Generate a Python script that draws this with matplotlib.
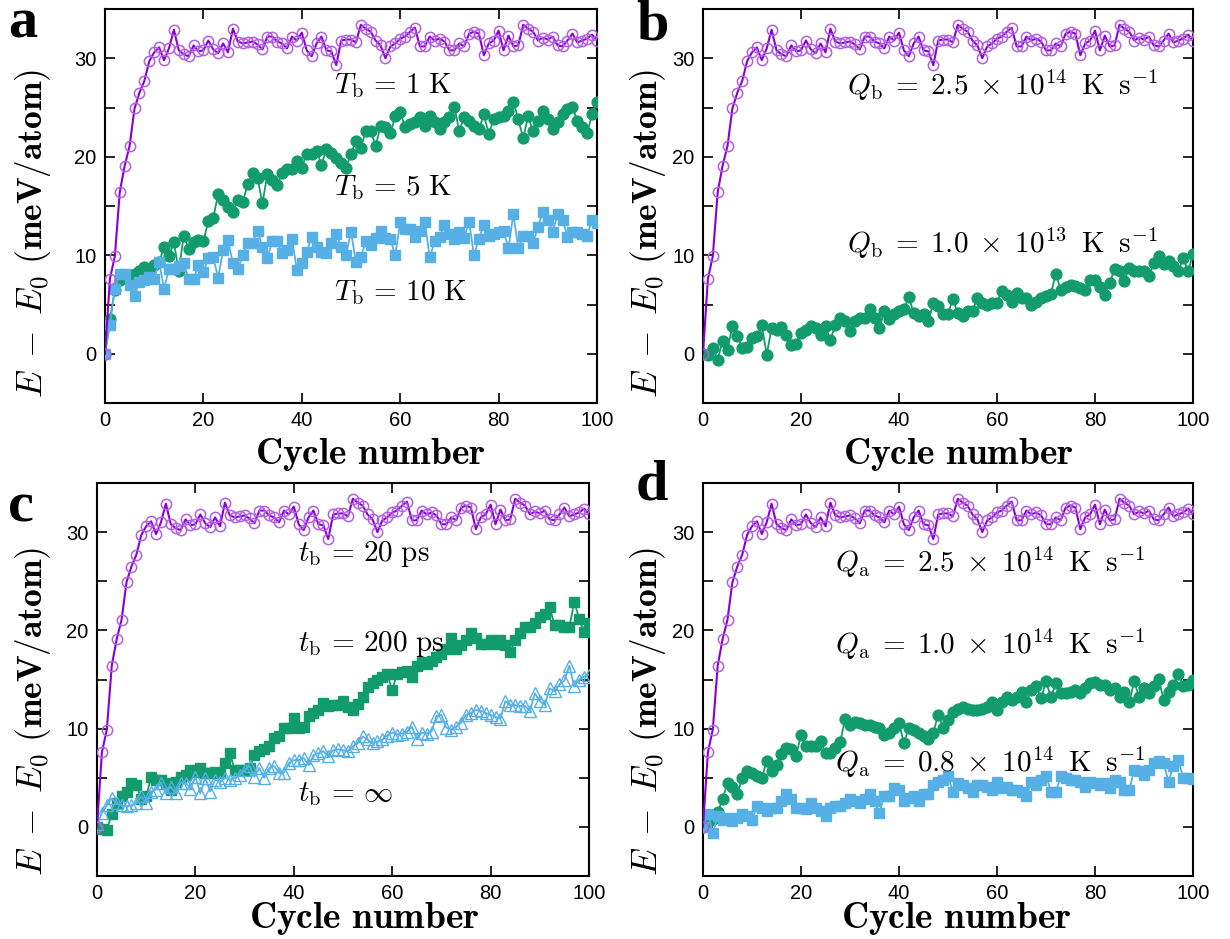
import matplotlib
matplotlib.use("Agg")
import matplotlib.pyplot as plt
from matplotlib.ticker import MultipleLocator

plt.rcParams['mathtext.fontset'] = 'cm'
plt.rcParams['font.family'] = ['Liberation Sans', 'DejaVu Sans']

cycles = list(range(101))

# shared fast-heating reference curve (purple, open circles)
purple = [0, 7.6, 9.9, 16.4, 19.1, 21.1, 24.9, 26.5, 27.7, 29.7, 30.6,
          31.1, 29.8, 31.0, 32.9, 30.8, 30.4, 30.2, 31.3, 30.7, 30.8,
          31.8, 30.9, 30.5, 31.5, 30.6, 33.0, 31.7, 31.5, 31.6, 31.7,
          31.4, 30.9, 32.2, 32.2, 31.7, 31.5, 31.0, 32.2, 31.8, 32.6,
          30.8, 30.2, 31.5, 32.2, 30.8, 30.7, 29.3, 31.8, 31.9, 31.9,
          31.6, 33.4, 33.0, 32.7, 31.8, 31.3, 30.0, 31.2, 31.5, 32.0,
          32.2, 32.7, 33.1, 31.2, 31.2, 32.2, 31.8, 32.0, 31.7, 30.8,
          30.8, 31.5, 31.2, 32.5, 32.7, 32.5, 30.3, 31.5, 31.8, 32.8,
          30.8, 32.3, 31.2, 31.3, 33.4, 33.0, 32.7, 31.8, 32.1, 31.9,
          32.2, 31.3, 31.2, 31.8, 32.5, 31.6, 31.8, 32.0, 32.4, 31.8]

# panel a
a_green_5K = [0, 3.5, 6.5, 7.5, 7.8, 8.0, 8.1, 8.4, 8.8, 8.6, 9.0,
              9.3, 10.8, 9.9, 11.3, 8.4, 12.0, 10.6, 11.3, 11.5, 11.4,
              13.5, 13.8, 16.2, 15.6, 14.9, 14.4, 15.6, 15.4, 17.2, 18.3,
              17.8, 15.3, 18.2, 17.6, 17.1, 18.4, 18.8, 18.8, 19.6, 18.9,
              20.3, 20.3, 20.6, 19.2, 20.8, 20.4, 19.9, 19.4, 18.9, 20.3,
              21.6, 20.9, 22.6, 22.6, 21.1, 23.1, 23.0, 22.4, 24.1, 24.5,
              23.0, 23.3, 23.5, 24.0, 23.1, 24.1, 23.5, 22.8, 23.5, 24.0,
              25.1, 22.6, 24.0, 23.6, 23.1, 22.8, 24.3, 22.3, 23.8, 24.0,
              24.1, 24.6, 25.6, 23.8, 21.9, 24.1, 22.6, 23.6, 24.6, 23.8,
              22.8, 23.5, 24.3, 24.8, 25.1, 23.6, 23.0, 22.4, 24.3, 25.6]
a_blue_10K = [0, 2.9, 6.6, 8.1, 8.1, 7.0, 5.9, 7.3, 7.5, 7.8, 7.6,
              9.3, 6.6, 8.6, 8.6, 8.9, 9.2, 7.6, 7.6, 9.0, 8.3,
              9.7, 9.8, 7.7, 10.5, 11.5, 9.2, 8.6, 10.0, 11.2, 11.2,
              12.5, 10.8, 9.7, 11.4, 11.4, 10.2, 10.5, 11.7, 8.5, 9.2,
              10.3, 11.9, 10.8, 10.3, 10.2, 11.2, 12.2, 10.8, 10.0, 12.4,
              9.3, 9.8, 11.4, 11.0, 11.8, 12.5, 11.8, 11.6, 10.0, 13.4,
              12.7, 12.7, 11.9, 12.5, 13.4, 9.8, 11.4, 11.9, 13.1, 12.2,
              11.6, 12.4, 11.8, 13.4, 10.0, 11.7, 13.1, 12.0, 12.2, 12.4,
              12.5, 10.7, 14.2, 10.7, 12.0, 12.0, 11.2, 12.9, 14.4, 13.6,
              12.4, 14.2, 13.6, 11.9, 12.4, 12.4, 12.2, 12.0, 13.6, 13.3]

# panel b
b_green = [0.0, -0.1, 0.6, -0.6, 1.3, 0.4, 2.8, 1.8, 0.6, 0.7, 1.6,
           1.8, 2.9, -0.1, 2.6, 2.4, 2.7, 1.9, 0.9, 1.0, 2.1,
           2.4, 2.8, 2.6, 1.9, 2.8, 1.4, 2.9, 3.6, 3.3, 2.3,
           3.3, 3.6, 3.6, 4.5, 3.6, 2.6, 4.3, 3.5, 4.0, 4.3,
           4.5, 5.8, 4.1, 3.8, 4.0, 3.3, 5.2, 4.8, 4.0, 4.0,
           5.6, 4.1, 3.8, 4.3, 4.3, 5.7, 5.2, 5.0, 5.2, 5.2,
           6.4, 6.0, 5.3, 6.2, 5.7, 5.7, 5.0, 5.3, 5.7, 5.9,
           6.1, 8.1, 6.5, 6.8, 7.0, 6.9, 6.7, 6.5, 7.5, 7.5,
           6.8, 6.0, 7.2, 8.6, 8.4, 7.4, 8.7, 8.4, 8.4, 8.4,
           7.9, 9.2, 9.9, 9.1, 9.4, 8.9, 8.4, 9.7, 8.4, 10.1]

# panel c
c_green_200ps = [0, -0.2, -0.3, 1.3, 2.4, 3.1, 3.6, 4.5, 4.3, 2.8, 3.1,
                 5.1, 4.8, 4.8, 4.5, 3.8, 4.6, 5.1, 5.3, 5.8, 5.6,
                 6.0, 5.5, 5.5, 5.6, 5.5, 6.5, 7.5, 5.8, 5.8, 5.8,
                 6.0, 7.3, 7.7, 7.9, 8.2, 9.0, 9.2, 10.1, 10.1, 11.1,
                 10.1, 10.2, 11.3, 11.6, 11.9, 12.6, 12.3, 12.4, 12.4, 12.8,
                 12.2, 11.9, 12.5, 13.2, 14.2, 14.6, 14.9, 15.3, 15.6, 13.9,
                 15.6, 15.8, 15.9, 15.3, 16.4, 16.8, 16.6, 16.9, 17.3, 17.6,
                 18.1, 19.2, 18.1, 18.5, 19.0, 19.7, 19.2, 18.6, 18.6, 19.0,
                 18.6, 19.0, 18.5, 17.8, 19.0, 19.7, 20.3, 20.3, 20.7, 21.4,
                 21.7, 22.4, 20.5, 20.5, 20.3, 20.3, 22.9, 21.2, 19.8, 20.7]
c_blue_inf = [0.3, 1.4, 2.2, 2.9, 2.4, 2.2, 2.1, 2.2, 2.4, 3.1, 2.4,
              3.6, 3.8, 4.5, 3.4, 4.1, 3.4, 4.5, 4.5, 3.9, 5.1,
              3.4, 5.0, 3.6, 4.8, 4.6, 5.0, 4.8, 5.0, 5.3, 5.8,
              6.2, 5.1, 6.0, 5.0, 6.0, 6.2, 5.5, 5.5, 6.5, 6.8,
              6.8, 7.0, 6.3, 7.3, 7.5, 7.7, 7.2, 7.8, 7.9, 7.8,
              7.7, 8.2, 8.5, 9.2, 8.9, 8.5, 8.7, 8.9, 9.3, 9.6,
              9.4, 9.5, 9.7, 10.2, 8.9, 9.6, 9.5, 9.7, 11.3, 11.4,
              10.1, 9.9, 10.2, 10.6, 11.4, 11.6, 11.9, 11.8, 11.6, 11.4,
              11.2, 11.0, 12.8, 12.4, 12.4, 12.3, 12.3, 11.8, 13.6, 12.8,
              12.4, 14.1, 13.8, 14.5, 14.9, 16.4, 14.3, 15.0, 15.3, 15.5]

# panel d
d_green_1p0 = [0, 0.5, 0.8, 1.5, 2.8, 4.5, 4.1, 3.3, 5.0, 5.7, 5.5,
               5.2, 5.0, 6.7, 5.7, 6.3, 7.4, 8.0, 7.9, 7.2, 9.4,
               8.2, 8.2, 8.2, 8.7, 7.5, 7.5, 8.0, 8.6, 11.0, 10.4,
               10.7, 10.6, 10.4, 10.4, 10.2, 10.1, 9.4, 9.6, 10.1, 10.6,
               8.5, 10.1, 9.9, 9.6, 9.2, 8.9, 9.6, 11.4, 10.1, 10.9,
               11.7, 12.0, 12.2, 12.0, 11.9, 11.9, 12.0, 12.2, 12.7, 11.9,
               12.7, 13.2, 12.9, 13.2, 13.7, 12.7, 13.9, 14.3, 13.1, 14.8,
               13.2, 14.6, 13.6, 13.6, 13.7, 13.9, 13.6, 14.1, 14.6, 14.7,
               14.4, 14.4, 13.9, 14.1, 13.2, 13.7, 12.7, 14.8, 13.2, 14.1,
               13.6, 14.3, 15.1, 12.9, 13.7, 14.4, 15.6, 14.3, 14.4, 15.0]
d_blue_0p8 = [0, 1.3, -0.6, 1.1, 0.7, 0.9, 0.6, 0.9, 1.3, 1.1, 0.7,
              2.1, 1.9, 1.6, 1.9, 1.9, 2.6, 3.3, 2.8, 1.9, 1.9,
              1.8, 2.4, 1.9, 1.6, 1.1, 1.9, 2.1, 2.1, 2.4, 2.8,
              2.6, 2.4, 2.8, 3.3, 2.6, 1.4, 3.1, 3.1, 4.0, 3.8,
              2.6, 2.9, 3.1, 2.6, 3.3, 3.3, 4.3, 4.6, 4.8, 5.2,
              3.6, 4.5, 4.3, 4.0, 3.5, 4.3, 4.3, 4.1, 3.8, 4.6,
              4.0, 4.1, 3.8, 3.8, 3.6, 3.1, 4.6, 4.3, 4.8, 5.2,
              3.6, 3.5, 5.2, 5.0, 4.8, 4.8, 4.6, 4.1, 4.6, 4.5,
              4.3, 4.5, 4.0, 4.8, 4.6, 3.8, 3.8, 5.8, 5.7, 5.3,
              5.8, 6.5, 6.7, 6.5, 4.6, 6.2, 6.8, 5.0, 5.0, 4.9]

PURPLE_LINE = '#8a00d4'
PURPLE_MK = '#b25fe3'
GREEN = '#129b6d'
BLUE = '#56b0e6'

fig = plt.figure(figsize=(12.3, 9.39), dpi=100)
W, H = 1230, 939
boxes = {
    'a': (105, 9, 597, 403),
    'b': (703, 9, 1193, 403),
    'c': (97, 483, 589, 876),
    'd': (703, 483, 1193, 876),
}
axes = {}
for k, (l, t, r, b) in boxes.items():
    axes[k] = fig.add_axes([l / W, 1 - b / H, (r - l) / W, (b - t) / H])


def purple_curve(ax):
    ax.plot(cycles[:len(purple)], purple, '-', color=PURPLE_LINE, lw=1.5,
            marker='o', ms=7.4, mfc='none', mec=PURPLE_MK, mew=1.1, zorder=4)


def style(ax, xlab_xy, ylab_xy):
    ax.set_xlim(0, 100)
    ax.set_ylim(-5, 35)
    ax.set_xticks([0, 20, 40, 60, 80, 100])
    ax.set_yticks([0, 10, 20, 30])
    ax.yaxis.set_minor_locator(MultipleLocator(5))
    ax.tick_params(which='both', direction='in', top=True, right=True,
                   length=7, width=1.2, labelsize=14.5, pad=6)
    ax.tick_params(which='minor', length=7)
    for s in ax.spines.values():
        s.set_linewidth(1.5)
    ax.set_xlabel(r'$\mathbf{Cycle\ number}$', fontsize=27)
    ax.xaxis.set_label_coords(*xlab_xy)
    ax.set_ylabel(r'$E\;-\;E_0\ \mathbf{(meV/atom)}$', fontsize=25.5)
    ax.yaxis.set_label_coords(*ylab_xy)


def series(ax, y, color, marker, filled=True, ms=7.5, lw=1.3):
    if filled:
        ax.plot(cycles[:len(y)], y, '-', color=color, lw=lw, marker=marker,
                ms=ms, mfc=color, mec=color, zorder=3)
    else:
        ax.plot(cycles[:len(y)], y, '-', color=color, lw=lw, marker=marker,
                ms=ms, mfc='none', mec=color, mew=1.0, zorder=3)


tsize = 21
QB1 = r'$Q_\mathrm{b}\;=\;2.5\;\times\;10^{14}\;\;\mathrm{K}\;\;\mathrm{s}^{-1}$'
QB2 = r'$Q_\mathrm{b}\;=\;1.0\;\times\;10^{13}\;\;\mathrm{K}\;\;\mathrm{s}^{-1}$'
QA1 = r'$Q_\mathrm{a}\;=\;2.5\;\times\;10^{14}\;\;\mathrm{K}\;\;\mathrm{s}^{-1}$'
QA2 = r'$Q_\mathrm{a}\;=\;1.0\;\times\;10^{14}\;\;\mathrm{K}\;\;\mathrm{s}^{-1}$'
QA3 = r'$Q_\mathrm{a}\;=\;0.8\;\times\;10^{14}\;\;\mathrm{K}\;\;\mathrm{s}^{-1}$'

# a
ax = axes['a']
series(ax, a_green_5K, GREEN, 'o', ms=7.8)
series(ax, a_blue_10K, BLUE, 's', ms=7.2)
purple_curve(ax)
ax.text(46.5, 27.2, r'$T_\mathrm{b}\,=\,1\ \mathrm{K}$', fontsize=tsize, va='center')
ax.text(46.5, 16.9, r'$T_\mathrm{b}\,=\,5\ \mathrm{K}$', fontsize=tsize, va='center')
ax.text(46.5, 6.2, r'$T_\mathrm{b}\,=\,10\ \mathrm{K}$', fontsize=tsize, va='center')
style(ax, (0.539, -0.085), (-0.105, 0.43))

# b
ax = axes['b']
series(ax, b_green, GREEN, 'o', ms=7.8)
purple_curve(ax)
ax.text(29.4, 27.2, QB1, fontsize=tsize, va='center')
ax.text(29.4, 11.2, QB2, fontsize=tsize, va='center')
style(ax, (0.52, -0.085), (-0.072, 0.43))

# c
ax = axes['c']
series(ax, c_green_200ps, GREEN, 's', ms=7.5)
series(ax, c_blue_inf, BLUE, '^', filled=False, ms=8, lw=1.3)
purple_curve(ax)
ax.text(40.9, 27.8, r'$t_\mathrm{b}\,=\,20\ \mathrm{ps}$', fontsize=tsize, va='center')
ax.text(40.9, 18.6, r'$t_\mathrm{b}\,=\,200\ \mathrm{ps}$', fontsize=tsize, va='center')
ax.text(40.9, 3.3, r'$t_\mathrm{b}\,=\,\infty$', fontsize=tsize, va='center')
style(ax, (0.543, -0.062), (-0.09, 0.42))

# d
ax = axes['d']
series(ax, d_green_1p0, GREEN, 'o', ms=7.8)
series(ax, d_blue_0p8, BLUE, 's', ms=7.2)
purple_curve(ax)
ax.text(26.9, 26.9, QA1, fontsize=tsize, va='center')
ax.text(26.9, 18.6, QA2, fontsize=tsize, va='center')
ax.text(26.9, 6.6, QA3, fontsize=tsize, va='center')
style(ax, (0.516, -0.062), (-0.072, 0.42))

# panel letters
for letter, (px, py) in {'a': (8, 38), 'b': (636, 40), 'c': (8, 522), 'd': (636, 500)}.items():
    fig.text(px / W, 1 - py / H, letter, fontsize=42, fontweight='bold',
             family=['Liberation Serif', 'DejaVu Serif'], va='baseline', ha='left')

fig.savefig('out.png', dpi=100)
